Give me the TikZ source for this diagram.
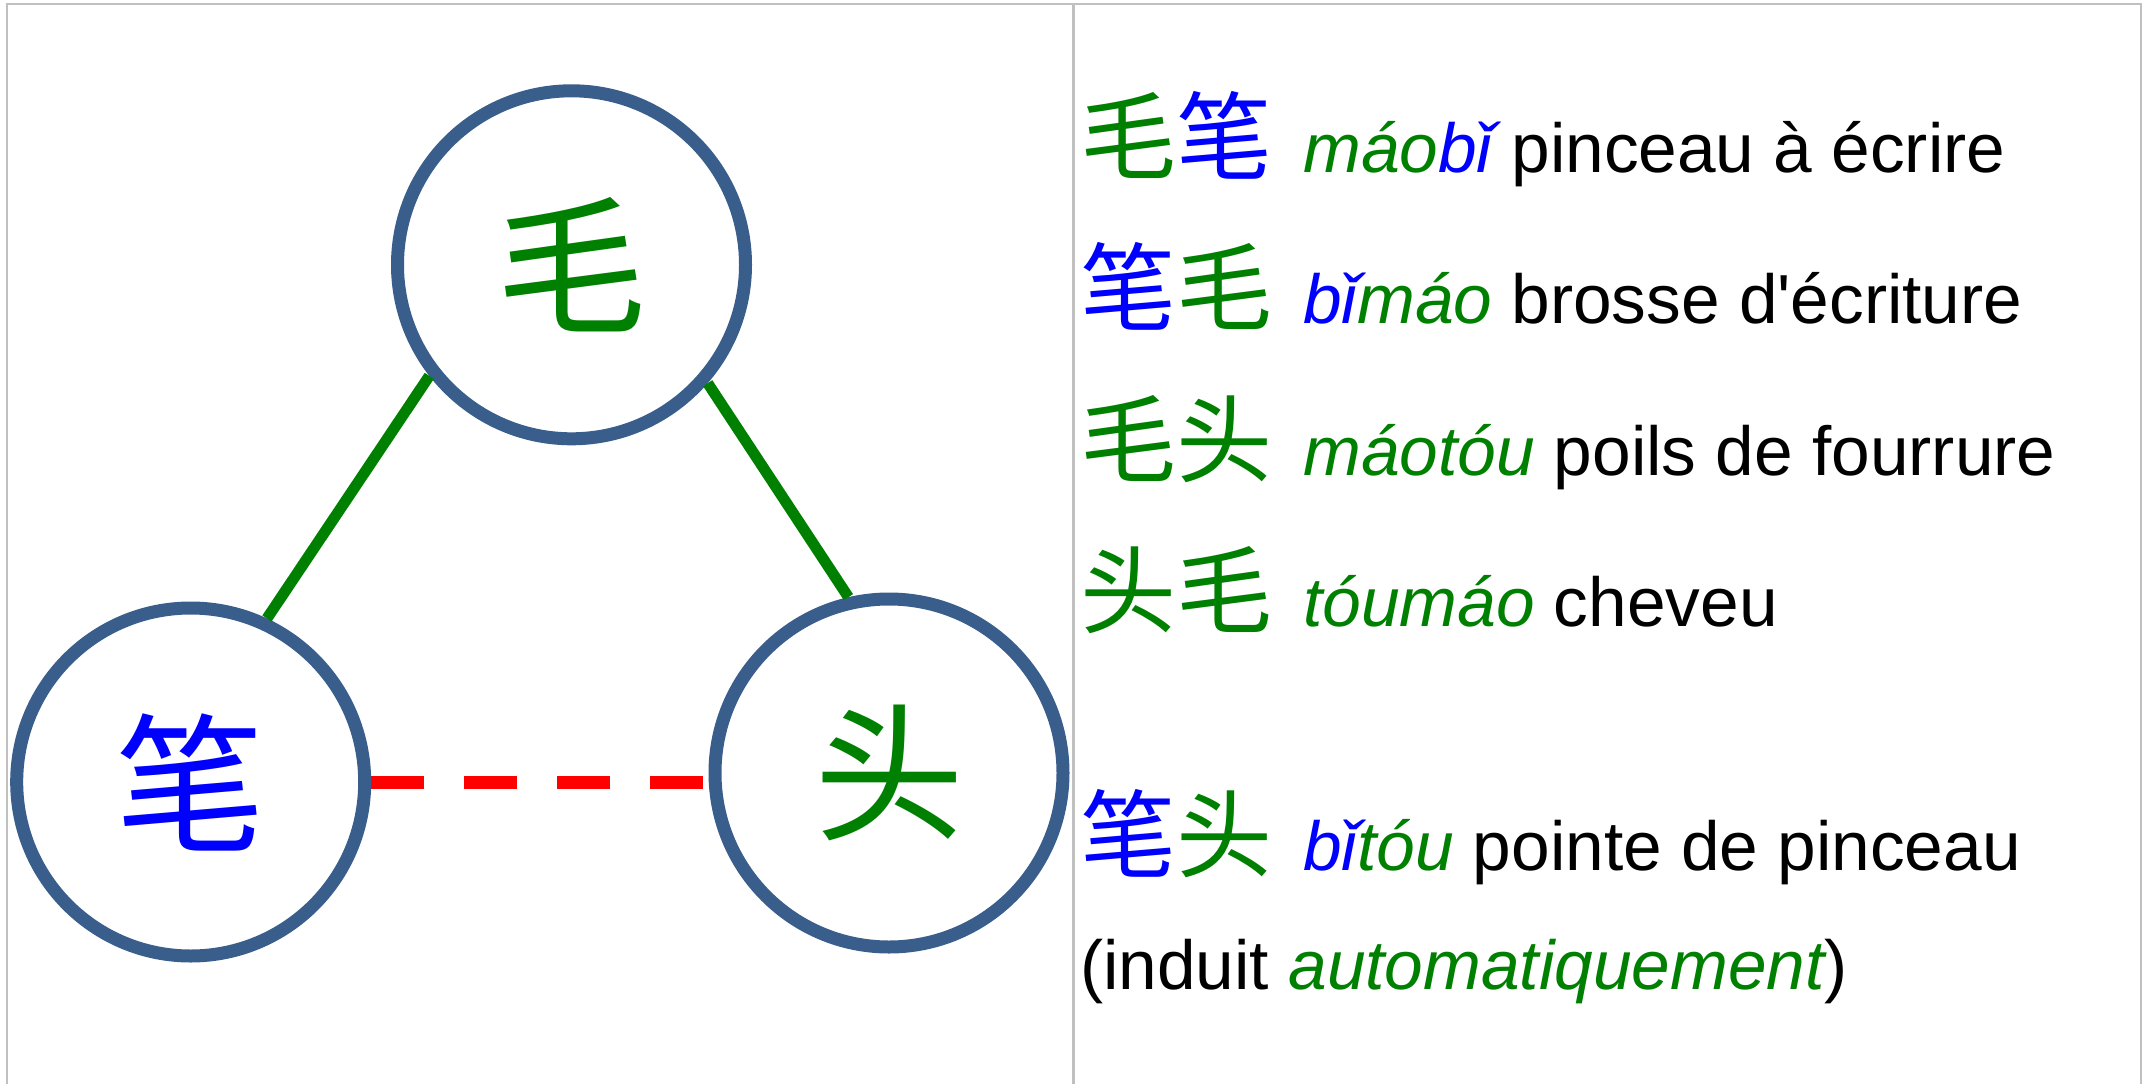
\documentclass[tikz,border=0pt]{standalone}
\usepackage{fontspec}
\setmainfont{Liberation Sans}[Ligatures=TeXOff]
\newfontfamily\cjk{Noto Sans CJK SC}
\definecolor{cgreen}{RGB}{0,128,0}
\definecolor{cblue}{RGB}{0,0,255}
\definecolor{cred}{RGB}{255,0,0}
\definecolor{ring}{RGB}{58,94,140}
\definecolor{framegray}{RGB}{192,192,192}
\newcommand\hanzi[1]{{\cjk\fontsize{96}{96}\selectfont #1}}
\begin{document}
\begin{tikzpicture}[x=1pt,y=-1pt,
  ringnode/.style={circle, draw=ring, line width=13pt, minimum size=348pt, inner sep=0pt,
    font=\cjk\fontsize{150}{150}\selectfont},
  solidlink/.style={draw=cgreen, line width=11pt},
  dashlink/.style={draw=cred, line width=13pt, dash pattern=on 52.6pt off 40.4pt},
  entry/.style={anchor=base west, inner sep=0pt, font=\fontsize{69.4}{80}\selectfont},
  framerule/.style={draw=framegray, line width=2.5pt}]
\useasboundingbox (0,0) rectangle (2145,1084);
\fill[white] (0,0) rectangle (2145,1084);
\draw[framerule] (7.2,1084) -- (7.2,4.2) -- (2141,4.2) -- (2141,1084);
\draw[framerule] (1073.5,4.2) -- (1073.5,1084);

\node[ringnode, text=cgreen] (mao) at (571.5,264.8) {\raisebox{8pt}{毛}};
\node[ringnode, text=cblue] (bi) at (190.7,782) {笔};
\node[ringnode, text=cgreen] (tou) at (889,773) {头};

\draw[solidlink] (mao.218.2) -- (bi.65.1);
\draw[solidlink] (mao.319.2) -- (tou.103.6);
\draw[dashlink] (bi.east) -- (bi.east -| tou.west);

\node[entry] (l1) at (1080,172) {\hanzi{\textcolor{cgreen}{毛}\textcolor{cblue}{笔}}\hspace{31pt}\textit{\textcolor{cgreen}{máo}\textcolor{cblue}{bǐ}} pinceau à écrire};
\node[entry] (l2) at (1080,323) {\hanzi{\textcolor{cblue}{笔}\textcolor{cgreen}{毛}}\hspace{31pt}\textit{\textcolor{cblue}{bǐ}\textcolor{cgreen}{máo}} brosse d'écriture};
\node[entry] (l3) at (1080,475) {\hanzi{\textcolor{cgreen}{毛头}}\hspace{31pt}\textit{\textcolor{cgreen}{máotóu}} poils de fourrure};
\node[entry] (l4) at (1080,626) {\hanzi{\textcolor{cgreen}{头毛}}\hspace{31pt}\textit{\textcolor{cgreen}{tóumáo}} cheveu};
\node[entry] (l5) at (1080,870) {\hanzi{\textcolor{cblue}{笔}\textcolor{cgreen}{头}}\hspace{31pt}\textit{\textcolor{cblue}{bǐ}\textcolor{cgreen}{tóu}} pointe de pinceau};
\node[entry] (l6) at (1080,989) {(induit \textit{\textcolor{cgreen}{automatiquement}})};
\end{tikzpicture}
\end{document}
